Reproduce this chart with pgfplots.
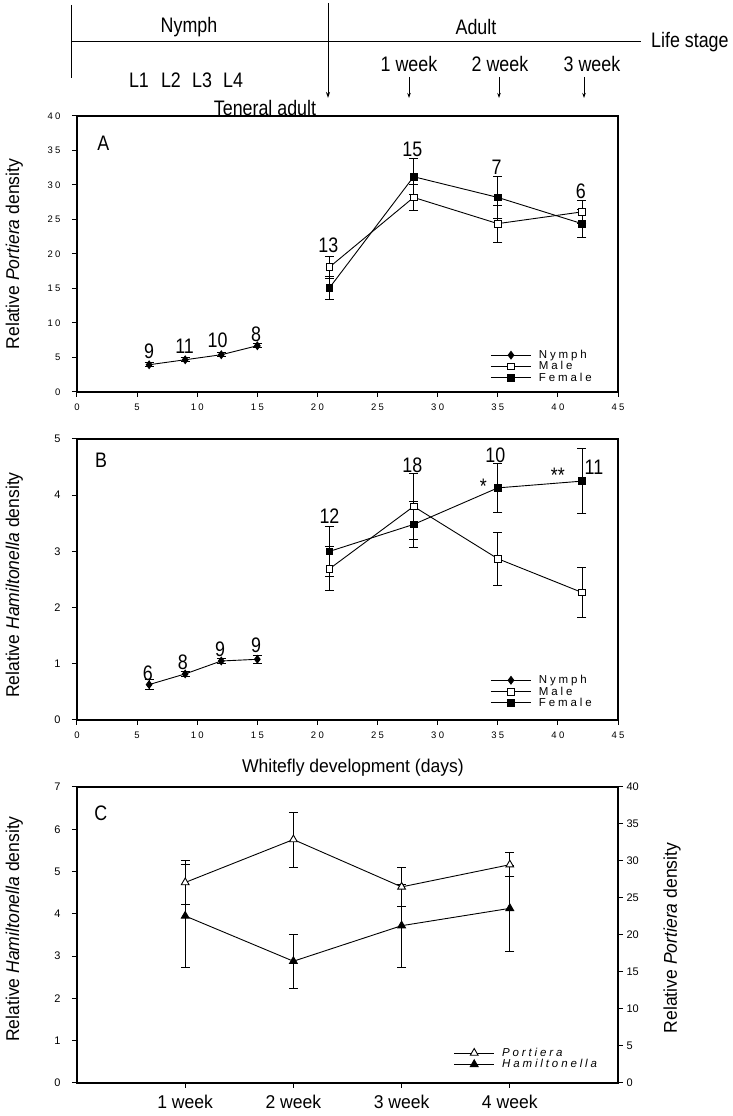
\documentclass[border=0pt]{standalone}
\usepackage{pgfplots}
\pgfplotsset{compat=1.18}
\usepackage{fontspec}
\setmainfont{Liberation Sans}
\newfontfamily\spaced[LetterSpace=25]{Liberation Sans}
\newfontfamily\narrow[FakeStretch=0.85]{Liberation Sans}
\newfontfamily\narrowb[FakeStretch=0.95]{Liberation Sans}
\usetikzlibrary{arrows.meta}
\newcommand\tickfont{\spaced\fontsize{9.5}{11}\selectfont}
\newcommand\bigfont{\narrow\fontsize{21}{23}\selectfont}
\newcommand\labfont{\narrowb\fontsize{18.5}{20}\selectfont}
\pgfplotsset{
  myaxis/.style={scale only axis, axis line style={line width=1.1pt}, tick style={line width=1pt,black},
    tick align=outside, major tick length=5pt, /pgf/number format/assume math mode=true,
    clip=false, xtick pos=left, ytick pos=left},
  errs/.style={error bars/.cd, y dir=both, y explicit, error bar style={line width=0.8pt},
    error mark options={rotate=90, mark size=4.5pt, line width=0.8pt}},
  nymph/.style={black, line width=0.9pt, mark=diamond*, mark size=3.8pt, mark options={solid,fill=black}},
  male/.style={black, line width=0.9pt, mark=square*, mark size=3.4pt, mark options={solid,fill=white}},
  female/.style={black, line width=0.9pt, mark=square*, mark size=3.4pt, mark options={solid,fill=black}},
  port/.style={black, line width=0.9pt, mark=triangle*, mark size=4.5pt, mark options={solid,fill=white}},
  ham/.style={black, line width=0.9pt, mark=triangle*, mark size=4.5pt, mark options={solid,fill=black}},
  mylegend/.style={legend style={draw=none, fill=none, font=\spaced\fontsize{11.5}{12.5}\selectfont,
      row sep=-1.5pt, nodes={inner sep=1.5pt}, /tikz/every odd column/.append style={column sep=6pt}},
    legend cell align=left,
    legend image code/.code={\draw[##1, mark repeat=2, mark phase=2] plot coordinates {(0pt,0pt) (20pt,0pt) (40pt,0pt)};}},
}
\begin{document}
\begin{tikzpicture}
\useasboundingbox (0pt,0pt) rectangle (733pt,1116pt);
% ---------- header ----------
\draw[line width=1pt] (71pt,1111pt) -- (71pt,1038pt);
\draw[line width=1pt] (71pt,1074pt) -- (641pt,1074pt);
\draw[line width=1pt,-{Stealth[length=6pt,width=4pt]}] (328pt,1113pt) -- (328pt,1018pt);
\node[font=\bigfont] at (189pt,1089pt) {Nymph};
\node[font=\bigfont] at (476pt,1089pt) {Adult};
\node[font=\bigfont, anchor=west, inner sep=0pt] at (651pt,1074pt) {Life stage};
\node[font=\bigfont] at (409pt,1052pt) {1 week};
\node[font=\bigfont] at (500pt,1052pt) {2 week};
\node[font=\bigfont] at (592pt,1052pt) {3 week};
\foreach \xx in {409,499,584} {\draw[line width=0.9pt,-{Stealth[length=5pt,width=3.5pt]}] (\xx pt,1039pt) -- (\xx pt,1018pt);}
\node[font=\bigfont] at (139pt,1036pt) {L1};
\node[font=\bigfont] at (171pt,1036pt) {L2};
\node[font=\bigfont] at (202pt,1036pt) {L3};
\node[font=\bigfont] at (233pt,1036pt) {L4};
\node[font=\bigfont] at (265pt,1008pt) {Teneral adult};
% ---------- Panel A ----------
\begin{axis}[myaxis, mylegend, at={(77pt,724pt)}, anchor=south west, width=541pt, height=276pt,
  xmin=0, xmax=45, ymin=0, ymax=40, xtick={0,5,...,45}, ytick={0,5,...,40},
  tick label style={font=\tickfont},
  yticklabel style={xshift=-8pt}, xticklabel style={yshift=-3pt},
  ylabel={Relative \textit{Portiera} density}, ylabel style={at={(axis description cs:-0.116,0.5)}, anchor=center, font=\labfont},
  legend style={at={(axis description cs:0.96,0.02)}, anchor=south east}]
\addplot[nymph, errs] coordinates {(6,3.95) +- (0,0.3) (9,4.67) +- (0,0.3) (12,5.4) +- (0,0.3) (15,6.7) +- (0,0.3)};
\addlegendentry{Nymph}
\addplot[female, forget plot, errs] coordinates {(21,15.1) +- (0,1.7) (28,31.2) +- (0,2.6) (35,28.2) +- (0,3.1) (42,24.4) +- (0,2.0)};
\addplot[male, errs] coordinates {(21,18.1) +- (0,1.6) (28,28.2) +- (0,1.85) (35,24.4) +- (0,2.7) (42,26.1) +- (0,1.6)};
\addlegendentry{Male}
\addlegendimage{female}
\addlegendentry{Female}
\node[font=\bigfont] at (axis cs:2.2,36.1) {A};
\node[font=\bigfont] at (axis cs:6.0,5.9) {9};
\node[font=\bigfont] at (axis cs:8.95,6.6) {11};
\node[font=\bigfont] at (axis cs:11.7,7.5) {10};
\node[font=\bigfont] at (axis cs:14.9,8.4) {8};
\node[font=\bigfont] at (axis cs:20.9,21.3) {13};
\node[font=\bigfont] at (axis cs:27.9,35.2) {15};
\node[font=\bigfont] at (axis cs:34.9,32.6) {7};
\node[font=\bigfont] at (axis cs:41.9,29.1) {6};
\end{axis}
% ---------- Panel B ----------
\begin{axis}[myaxis, mylegend, at={(77pt,396pt)}, anchor=south west, width=541pt, height=281pt,
  xmin=0, xmax=45, ymin=0, ymax=5, xtick={0,5,...,45}, ytick={0,1,...,5},
  xticklabel style={font=\tickfont, yshift=-3pt},
  yticklabel style={font=\fontsize{11}{12}\selectfont, xshift=-8pt},
  ylabel={Relative \textit{Hamiltonella} density}, ylabel style={at={(axis description cs:-0.116,0.48)}, anchor=center, font=\labfont},
  xlabel={Whitefly development (days)}, xlabel style={at={(axis description cs:0.51,-0.171)}, anchor=center, font=\labfont},
  legend style={at={(axis description cs:0.96,0.03)}, anchor=south east}]
\addplot[nymph, errs] coordinates {(6,0.63) +- (0,0.09) (9,0.82) +- (0,0.05) (12,1.05) +- (0,0.04) (15,1.08) +- (0,0.07)};
\addlegendentry{Nymph}
\addplot[female, forget plot, errs] coordinates {(21,3.0) +- (0,0.45) (28,3.48) +- (0,0.41) (35,4.13) +- (0,0.43) (42,4.25) +- (0,0.58)};
\addplot[male, errs] coordinates {(21,2.69) +- (0,0.39) (28,3.8) +- (0,0.58) (35,2.87) +- (0,0.47) (42,2.27) +- (0,0.44)};
\addlegendentry{Male}
\addlegendimage{female}
\addlegendentry{Female}
\node[font=\bigfont] at (axis cs:2.0,4.63) {B};
\node[font=\bigfont] at (axis cs:5.9,0.83) {6};
\node[font=\bigfont] at (axis cs:8.8,1.02) {8};
\node[font=\bigfont] at (axis cs:11.9,1.26) {9};
\node[font=\bigfont] at (axis cs:14.9,1.33) {9};
\node[font=\bigfont] at (axis cs:21.0,3.63) {12};
\node[font=\bigfont] at (axis cs:27.9,4.53) {18};
\node[font=\bigfont] at (axis cs:34.8,4.71) {10};
\node[font=\bigfont] at (axis cs:43.0,4.50) {11};
\node[font=\bigfont] at (axis cs:33.8,4.16) {*};
\node[font=\bigfont] at (axis cs:40.0,4.35) {**};
\end{axis}
% ---------- Panel C ----------
\begin{axis}[myaxis, at={(77pt,33pt)}, anchor=south west, width=541pt, height=296pt,
  xmin=0, xmax=5, ymin=0, ymax=7, xtick={1,2,3,4}, xticklabels={1 week,2 week,3 week,4 week},
  ytick={0,1,...,7},
  yticklabel style={font=\fontsize{11}{12}\selectfont, xshift=-8pt},
  xticklabel style={font=\labfont, yshift=-4pt},
  ylabel={Relative \textit{Hamiltonella} density}, ylabel style={at={(axis description cs:-0.116,0.52)}, anchor=center, font=\labfont}]
\addplot[ham, errs] coordinates {(1,3.95) +- (0,1.21) (2,2.88) +- (0,0.64) (3,3.72) +- (0,0.98) (4,4.13) +- (0,1.01)};
\node[font=\bigfont] at (axis cs:0.22,6.39) {C};
\end{axis}
\begin{axis}[myaxis, mylegend, at={(77pt,33pt)}, anchor=south west, width=541pt, height=296pt,
  xmin=0, xmax=5, ymin=0, ymax=40, ytick={0,5,...,40}, axis y line*=right, hide x axis,
  ytick pos=right,
  yticklabel style={font=\fontsize{11}{12}\selectfont},
  ylabel={Relative \textit{Portiera} density}, ylabel style={at={(axis description cs:1.1,0.49)}, anchor=center, font=\labfont},
  legend style={at={(axis description cs:0.97,0.034)}, anchor=south east, font=\spaced\itshape\fontsize{11.5}{12.5}\selectfont}]
\addplot[port, errs] coordinates {(1,27.1) +- (0,3.0) (2,32.9) +- (0,3.7) (3,26.5) +- (0,2.7) (4,29.5) +- (0,1.6)};
\addlegendentry{Portiera}
\addlegendimage{ham}
\addlegendentry{Hamiltonella}
\end{axis}
\end{tikzpicture}
\end{document}
